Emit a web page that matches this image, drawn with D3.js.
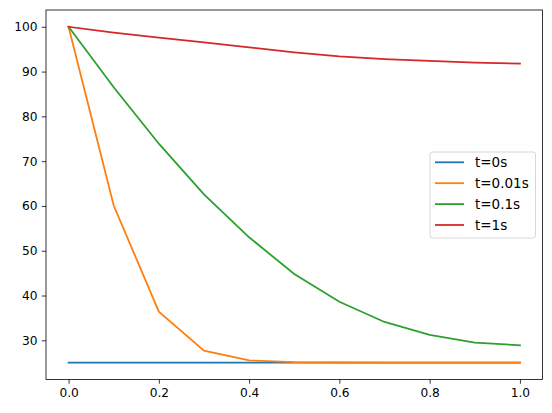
<!DOCTYPE html>
<html>
<head>
<meta charset="utf-8">
<script src="https://cdn.jsdelivr.net/npm/d3@7"></script>
<style>
  body { margin: 0; background: #fff; }
  text { font-family: "DejaVu Sans", sans-serif; }
</style>
</head>
<body>
<div id="chart"></div>
<script>
var xs = [0, 0.1, 0.2, 0.3, 0.4, 0.5, 0.6, 0.7, 0.8, 0.9, 1.0];
var t0 = [25, 25, 25, 25, 25, 25, 25, 25, 25, 25, 25];
var t001 = [100, 60.1, 36.4, 27.7, 25.5, 25.15, 25.05, 25.0, 25.0, 25.0, 25.0];
var t01 = [100, 86.5, 73.9, 62.6, 53.0, 44.8, 38.6, 34.1, 31.2, 29.5, 28.9];
var t1 = [100, 98.7, 97.6, 96.5, 95.4, 94.3, 93.4, 92.8, 92.4, 92.0, 91.8];
var seriesNames = ["t=0s", "t=0.01s", "t=0.1s", "t=1s"];
var colors = ["#1f77b4", "#ff7f0e", "#2ca02c", "#d62728"];
var xTicks = [0, 0.2, 0.4, 0.6, 0.8, 1.0];
var yTicks = [30, 40, 50, 60, 70, 80, 90, 100];

var W = 552, H = 413,
    mleft = 46, mtop = 10,
    w = 496.5, h = 369.5;

var svg = d3.select("#chart")
  .append("svg")
  .attr("width", W)
  .attr("height", H);

var g = svg.append("g")
  .attr("transform", "translate(" + mleft + "," + mtop + ")");

var x = d3.scaleLinear().domain([-0.05, 1.05]).range([0, w]);
var y = d3.scaleLinear().domain([21.25, 103.75]).range([h, 0]);

var xAxis = d3.axisBottom(x).tickValues(xTicks).tickFormat(d3.format(".1f"))
  .tickSize(4.2).tickPadding(4.2);
var yAxis = d3.axisLeft(y).tickValues(yTicks).tickFormat(d3.format("d"))
  .tickSize(4.2).tickPadding(4.2);

var gx = g.append("g")
  .attr("transform", "translate(0," + h + ")")
  .call(xAxis);
var gy = g.append("g").call(yAxis);

[gx, gy].forEach(function(a) {
  a.select(".domain").remove();
  a.selectAll("line").attr("stroke", "#000").attr("stroke-width", 0.8);
  a.selectAll("text")
    .attr("fill", "#000")
    .style("font-size", "12.2px")
    .style("font-family", "DejaVu Sans");
});

var allSeries = [t0, t001, t01, t1];
var line = d3.line()
  .x(function(d, i) { return x(xs[i]); })
  .y(function(d) { return y(d); });

g.selectAll(".series")
  .data(allSeries)
  .enter()
  .append("path")
  .attr("class", "series")
  .attr("fill", "none")
  .attr("stroke", function(d, i) { return colors[i]; })
  .attr("stroke-width", 1.8)
  .attr("stroke-linecap", "square")
  .attr("d", line);

// frame
g.append("rect")
  .attr("width", w)
  .attr("height", h)
  .attr("fill", "none")
  .attr("stroke", "#000")
  .attr("stroke-width", 0.8);

// legend
var lg = svg.append("g").attr("transform", "translate(430,152)");
lg.append("rect")
  .attr("width", 105.5)
  .attr("height", 86)
  .attr("rx", 2.5)
  .attr("fill", "#fff")
  .attr("fill-opacity", 0.8)
  .attr("stroke", "#cccccc")
  .attr("stroke-width", 0.8);

var items = lg.selectAll(".item")
  .data(seriesNames)
  .enter()
  .append("g")
  .attr("class", "item")
  .attr("transform", function(d, i) { return "translate(0," + (10.3 + i * 20.9) + ")"; });

items.append("line")
  .attr("x1", 5).attr("x2", 34)
  .attr("stroke", function(d, i) { return colors[i]; })
  .attr("stroke-width", 1.8);

items.append("text")
  .attr("x", 45)
  .attr("dy", "0.36em")
  .style("font-size", "13.5px")
  .attr("fill", "#000")
  .text(function(d) { return d; });
</script>
</body>
</html>
